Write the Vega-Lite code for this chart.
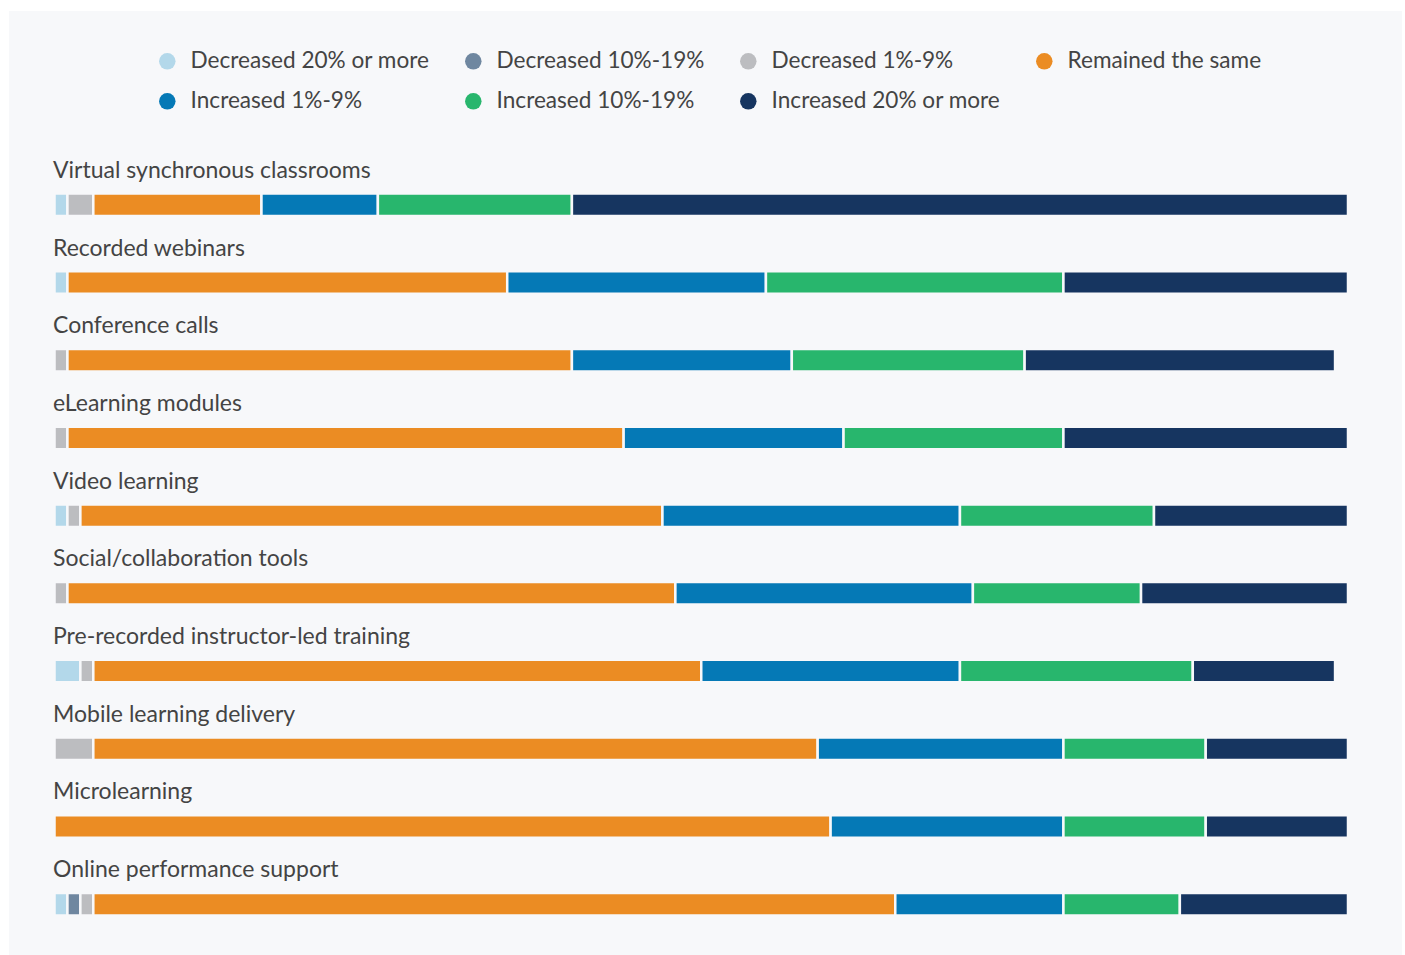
{
  "$schema": "https://vega.github.io/schema/vega-lite/v6.json",
  "width": 1393,
  "height": 944,
  "autosize": {"type": "none"},
  "padding": {"left": 9, "top": 11, "right": 3, "bottom": 0},
  "background": "#ffffff",
  "config": {
    "view": {"fill": "#f7f8fa", "stroke": null},
    "font": "Lato",
    "legend": {
      "orient": "none",
      "legendX": 147,
      "legendY": 39,
      "columns": 4,
      "direction": "horizontal",
      "columnPadding": 32,
      "rowPadding": 17,
      "padding": 0,
      "symbolType": "circle",
      "symbolSize": 272,
      "symbolStrokeWidth": 0,
      "labelFontSize": 22.6,
      "labelColor": "#444444",
      "labelFont": "Lato",
      "labelOffset": 12,
      "labelLimit": 400
    }
  },
  "datasets": {
    "responses": [
      {"response": "Decreased 20% or more", "rank": 1},
      {"response": "Decreased 10%-19%", "rank": 2},
      {"response": "Decreased 1%-9%", "rank": 3},
      {"response": "Remained the same", "rank": 4},
      {"response": "Increased 1%-9%", "rank": 5},
      {"response": "Increased 10%-19%", "rank": 6},
      {"response": "Increased 20% or more", "rank": 7}
    ],
    "bars": [
      {"task": "Virtual synchronous classrooms", "response": "Decreased 20% or more", "pct": 1},
      {"task": "Virtual synchronous classrooms", "response": "Decreased 1%-9%", "pct": 2},
      {"task": "Virtual synchronous classrooms", "response": "Remained the same", "pct": 13},
      {"task": "Virtual synchronous classrooms", "response": "Increased 1%-9%", "pct": 9},
      {"task": "Virtual synchronous classrooms", "response": "Increased 10%-19%", "pct": 15},
      {"task": "Virtual synchronous classrooms", "response": "Increased 20% or more", "pct": 60},
      {"task": "Recorded webinars", "response": "Decreased 20% or more", "pct": 1},
      {"task": "Recorded webinars", "response": "Remained the same", "pct": 34},
      {"task": "Recorded webinars", "response": "Increased 1%-9%", "pct": 20},
      {"task": "Recorded webinars", "response": "Increased 10%-19%", "pct": 23},
      {"task": "Recorded webinars", "response": "Increased 20% or more", "pct": 22},
      {"task": "Conference calls", "response": "Decreased 1%-9%", "pct": 1},
      {"task": "Conference calls", "response": "Remained the same", "pct": 39},
      {"task": "Conference calls", "response": "Increased 1%-9%", "pct": 17},
      {"task": "Conference calls", "response": "Increased 10%-19%", "pct": 18},
      {"task": "Conference calls", "response": "Increased 20% or more", "pct": 24},
      {"task": "eLearning modules", "response": "Decreased 1%-9%", "pct": 1},
      {"task": "eLearning modules", "response": "Remained the same", "pct": 43},
      {"task": "eLearning modules", "response": "Increased 1%-9%", "pct": 17},
      {"task": "eLearning modules", "response": "Increased 10%-19%", "pct": 17},
      {"task": "eLearning modules", "response": "Increased 20% or more", "pct": 22},
      {"task": "Video learning", "response": "Decreased 20% or more", "pct": 1},
      {"task": "Video learning", "response": "Decreased 1%-9%", "pct": 1},
      {"task": "Video learning", "response": "Remained the same", "pct": 45},
      {"task": "Video learning", "response": "Increased 1%-9%", "pct": 23},
      {"task": "Video learning", "response": "Increased 10%-19%", "pct": 15},
      {"task": "Video learning", "response": "Increased 20% or more", "pct": 15},
      {"task": "Social/collaboration tools", "response": "Decreased 1%-9%", "pct": 1},
      {"task": "Social/collaboration tools", "response": "Remained the same", "pct": 47},
      {"task": "Social/collaboration tools", "response": "Increased 1%-9%", "pct": 23},
      {"task": "Social/collaboration tools", "response": "Increased 10%-19%", "pct": 13},
      {"task": "Social/collaboration tools", "response": "Increased 20% or more", "pct": 16},
      {"task": "Pre-recorded instructor-led training", "response": "Decreased 20% or more", "pct": 2},
      {"task": "Pre-recorded instructor-led training", "response": "Decreased 1%-9%", "pct": 1},
      {"task": "Pre-recorded instructor-led training", "response": "Remained the same", "pct": 47},
      {"task": "Pre-recorded instructor-led training", "response": "Increased 1%-9%", "pct": 20},
      {"task": "Pre-recorded instructor-led training", "response": "Increased 10%-19%", "pct": 18},
      {"task": "Pre-recorded instructor-led training", "response": "Increased 20% or more", "pct": 11},
      {"task": "Mobile learning delivery", "response": "Decreased 1%-9%", "pct": 3},
      {"task": "Mobile learning delivery", "response": "Remained the same", "pct": 56},
      {"task": "Mobile learning delivery", "response": "Increased 1%-9%", "pct": 19},
      {"task": "Mobile learning delivery", "response": "Increased 10%-19%", "pct": 11},
      {"task": "Mobile learning delivery", "response": "Increased 20% or more", "pct": 11},
      {"task": "Microlearning", "response": "Remained the same", "pct": 60},
      {"task": "Microlearning", "response": "Increased 1%-9%", "pct": 18},
      {"task": "Microlearning", "response": "Increased 10%-19%", "pct": 11},
      {"task": "Microlearning", "response": "Increased 20% or more", "pct": 11},
      {"task": "Online performance support", "response": "Decreased 20% or more", "pct": 1},
      {"task": "Online performance support", "response": "Decreased 10%-19%", "pct": 1},
      {"task": "Online performance support", "response": "Decreased 1%-9%", "pct": 1},
      {"task": "Online performance support", "response": "Remained the same", "pct": 62},
      {"task": "Online performance support", "response": "Increased 1%-9%", "pct": 13},
      {"task": "Online performance support", "response": "Increased 10%-19%", "pct": 9},
      {"task": "Online performance support", "response": "Increased 20% or more", "pct": 13}
    ],
    "tasks": [
      {"task": "Virtual synchronous classrooms"},
      {"task": "Recorded webinars"},
      {"task": "Conference calls"},
      {"task": "eLearning modules"},
      {"task": "Video learning"},
      {"task": "Social/collaboration tools"},
      {"task": "Pre-recorded instructor-led training"},
      {"task": "Mobile learning delivery"},
      {"task": "Microlearning"},
      {"task": "Online performance support"}
    ]
  },
  "layer": [
    {
      "data": {"name": "bars"},
      "transform": [
        {"lookup": "response", "from": {"data": {"name": "responses"}, "key": "response", "fields": ["rank"]}}
      ],
      "mark": {"type": "bar", "height": 22.5, "stroke": "#f7f8fa", "strokeWidth": 2.5},
      "encoding": {
        "y": {
          "field": "task",
          "type": "nominal",
          "axis": null,
          "sort": ["Virtual synchronous classrooms", "Recorded webinars", "Conference calls", "eLearning modules", "Video learning", "Social/collaboration tools", "Pre-recorded instructor-led training", "Mobile learning delivery", "Microlearning", "Online performance support"],
          "scale": {"range": [155, 932], "paddingInner": 0, "paddingOuter": 0}
        },
        "x": {
          "field": "pct",
          "type": "quantitative",
          "stack": "zero",
          "axis": null,
          "scale": {"domain": [0, 100], "range": [45.5, 1339], "nice": false}
        },
        "order": {"field": "rank", "type": "quantitative", "sort": "ascending"},
        "color": {
          "field": "response",
          "type": "nominal",
          "title": null,
          "sort": ["Decreased 20% or more", "Decreased 10%-19%", "Decreased 1%-9%", "Remained the same", "Increased 1%-9%", "Increased 10%-19%", "Increased 20% or more"],
          "scale": {
            "domain": ["Decreased 20% or more", "Decreased 10%-19%", "Decreased 1%-9%", "Remained the same", "Increased 1%-9%", "Increased 10%-19%", "Increased 20% or more"],
            "range": ["#b3d8ea", "#6f87a0", "#bcbdc0", "#eb8c23", "#0579b6", "#28b66d", "#163560"]
          }
        }
      }
    },
    {
      "data": {"name": "tasks"},
      "mark": {"type": "text", "align": "left", "baseline": "alphabetic", "dy": -27, "dx": -1.5, "fontSize": 23, "color": "#444444", "font": "Lato"},
      "encoding": {
        "y": {"field": "task", "type": "nominal", "axis": null, "sort": ["Virtual synchronous classrooms", "Recorded webinars", "Conference calls", "eLearning modules", "Video learning", "Social/collaboration tools", "Pre-recorded instructor-led training", "Mobile learning delivery", "Microlearning", "Online performance support"]},
        "x": {"datum": 0},
        "text": {"field": "task"}
      }
    }
  ]
}
